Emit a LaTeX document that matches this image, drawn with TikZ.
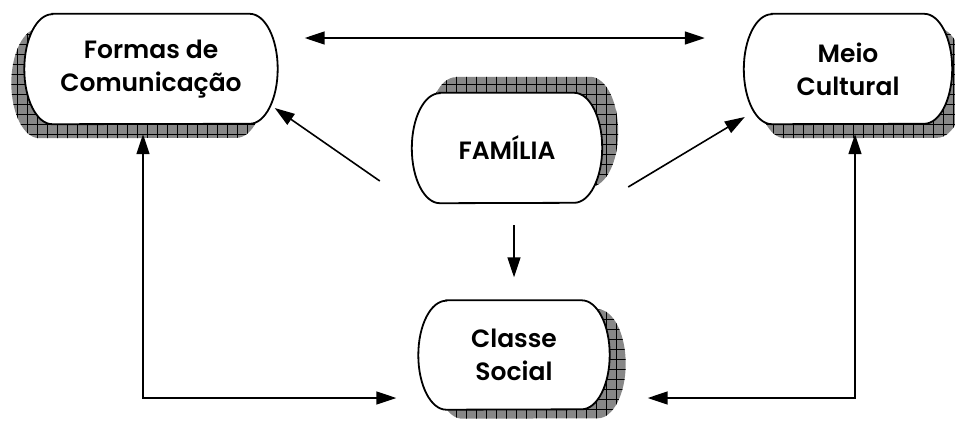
\documentclass[tikz,border=0pt]{standalone}
\usepackage{fontspec}
\setmainfont{Poppins}[BoldFont={Poppins SemiBold}]
\usetikzlibrary{arrows.meta,calc,backgrounds}

\definecolor{shadowfill}{RGB}{135,135,135}

\tikzset{
  boxtext/.style={font=\bfseries\fontsize{25}{33}\selectfont, align=center,
                  inner sep=0pt, draw=none, minimum height=110pt},
  outline/.style={fill=white, draw=black, line width=1.8pt},
  shadefill/.style={fill=shadowfill},
  shadegrid/.style={draw=black, line width=0.7pt},
  link/.style={line width=1.6pt, -{Triangle[length=20pt,width=13pt]}},
  twolink/.style={line width=1.6pt,
    {Triangle[length=20pt,width=13pt]}-{Triangle[length=20pt,width=13pt]}},
}

% capsule outline around a node: flat top and bottom, half-ellipse ends
\newcommand\capsulepath[2]{%
  ([xshift=28pt]#1.north west) -- ([xshift=-28pt]#1.north east)
  arc[start angle=90,end angle=-90,x radius=28pt,y radius=#2]
  -- ([xshift=28pt]#1.south west)
  arc[start angle=270,end angle=90,x radius=28pt,y radius=#2] -- cycle}

% hatched drop shadow, then the white capsule
\newcommand\capsulebox[3]{%
  \begin{scope}[transform canvas={shift={#3}}]
    \fill[shadefill] \capsulepath{#1}{#2};
    \begin{scope}
      \clip \capsulepath{#1}{#2};
      \draw[shadegrid, step=10pt] ([shift={(-20pt,-20pt)}]#1.south west)
        grid ([shift={(20pt,20pt)}]#1.north east);
    \end{scope}
  \end{scope}
  \path[outline] \capsulepath{#1}{#2};}

\begin{document}
\begin{tikzpicture}[x=1pt,y=1pt]
  \useasboundingbox (0,0) rectangle (955,-421);

  \node[boxtext, minimum width=253pt] (formas)  at (151,-69)  {Formas de\\Comunicação};
  \node[boxtext, minimum width=208pt] (meio)    at (848,-69)  {Meio\\Cultural};
  \node[boxtext, minimum width=190pt] (familia) at (507,-148) {FAMÍLIA};
  \node[boxtext, minimum width=191pt, minimum height=109pt] (classe) at (514,-355) {Classe\\Social};

  \begin{pgfonlayer}{background}
    \capsulebox{formas}{55pt}{(-13pt,-14pt)}
    \capsulebox{meio}{55pt}{(13pt,-14pt)}
    \capsulebox{familia}{55pt}{(16pt,16pt)}
    \capsulebox{classe}{54.5pt}{(16pt,-9pt)}
  \end{pgfonlayer}

  % free ends of the connectors
  \coordinate (famL) at ($(familia.west)+(-32,-33)$);
  \coordinate (famR) at ($(familia.east)+(26,-39)$);
  \coordinate (famD) at ($(familia.south -| classe.north)+(0,-22)$);
  \coordinate (clsU) at ($(classe.north)+(0,23)$);

  \draw[twolink] ($(formas.east)+(27,31)$) -- ($(meio.west)+(-39,31)$);
  \draw[link] (famL) -- ($(formas.east)+(-3,-39)$);
  \draw[link] (famR) -- ($(meio.west)+(1,-48)$);
  \draw[link] (famD) -- (clsU);
  \draw[twolink] ($(formas.south)+(-8,-10)$) |- ($(classe.west)+(-22,-43)$);
  \draw[twolink] ($(meio.south)+(7,-10)$) |- ($(classe.east)+(38,-43)$);
\end{tikzpicture}
\end{document}
